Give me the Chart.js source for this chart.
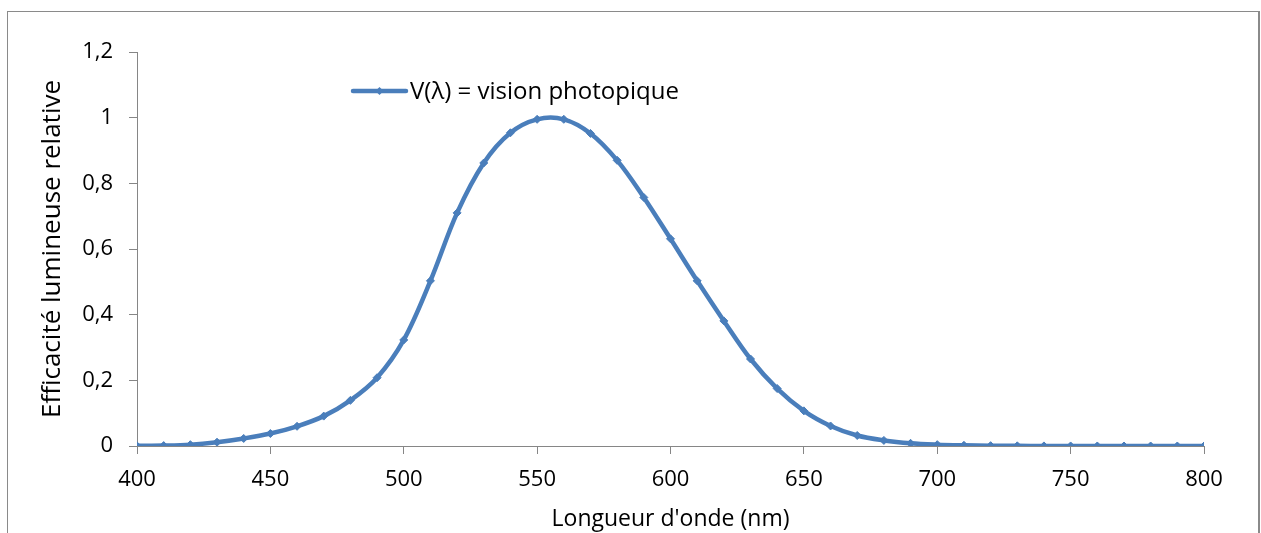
<!DOCTYPE html>
<html>
<head>
<meta charset="utf-8">
<title>V(λ) vision photopique</title>
<script src="https://cdn.jsdelivr.net/npm/chart.js@4.4.1/dist/chart.umd.min.js"></script>
<style>
  html, body { margin: 0; padding: 0; background: #fff; overflow: hidden; }
  #frame {
    position: absolute; left: 7px; top: 11px; width: 1250px; height: 540px;
    border: 1px solid #8a8a8a; border-right-width: 2px;
  }
  #wrap { position: absolute; left: 0; top: 0; width: 1261px; height: 533px; }
</style>
</head>
<body>
<div id="frame"></div>
<div id="wrap"><canvas id="vlambda" width="1261" height="533"></canvas></div>
<script>
// Wavelengths (nm) - one point every 10 nm
const wavelengths = [400, 410, 420, 430, 440, 450, 460, 470, 480, 490,
                     500, 510, 520, 530, 540, 550, 560, 570, 580, 590,
                     600, 610, 620, 630, 640, 650, 660, 670, 680, 690,
                     700, 710, 720, 730, 740, 750, 760, 770, 780, 790, 800];
// Relative luminous efficiency V(λ)
const efficacy = [0.0004, 0.0012, 0.004, 0.0116, 0.023, 0.038, 0.06, 0.091, 0.139, 0.208,
                  0.323, 0.503, 0.71, 0.862, 0.954, 0.995, 0.995, 0.952, 0.87, 0.757,
                  0.631, 0.503, 0.381, 0.265, 0.175, 0.107, 0.061, 0.032, 0.017, 0.0082,
                  0.0041, 0.0021, 0.001, 0.0005, 0.00025, 0.00012, 0.00006, 0.00003, 0.000015, 0.000007, 0.000004];
const xTicks = [400, 450, 500, 550, 600, 650, 700, 750, 800];
const yTicks = [0, 0.2, 0.4, 0.6, 0.8, 1, 1.2];

const seriesLabel = 'V(λ) = vision photopique';
const blue = '#4a7ebb';
const axisGrey = '#868686';

// Excel-style legend drawn inside the plot area (line + diamond + text)
const innerLegend = {
    id: 'innerLegend',
    afterDraw(chart) {
        const ctx = chart.ctx;
        const area = chart.chartArea;
        const ds = chart.data.datasets[0];
        const x0 = area.left + 216, x1 = area.left + 269, y = area.top + 39;
        ctx.save();
        ctx.strokeStyle = ds.borderColor;
        ctx.lineWidth = ds.borderWidth;
        ctx.lineCap = 'round';
        ctx.beginPath();
        ctx.moveTo(x0, y);
        ctx.lineTo(x1, y);
        ctx.stroke();
        ctx.fillStyle = ds.borderColor;
        ctx.beginPath();
        const cx = (x0 + x1) / 2, r = 4;
        ctx.moveTo(cx, y - r); ctx.lineTo(cx + r, y); ctx.lineTo(cx, y + r); ctx.lineTo(cx - r, y);
        ctx.closePath();
        ctx.fill();
        ctx.fillStyle = '#000';
        ctx.font = '24px "Open Sans"';
        ctx.textBaseline = 'middle';
        ctx.textAlign = 'left';
        ctx.fillText(ds.label, x1 + 4, y + 1);
        ctx.restore();
    }
};

const points = wavelengths.map((w, i) => ({ x: w, y: efficacy[i] }));

const ctx = document.getElementById('vlambda').getContext('2d');
const vChart = new Chart(ctx, {
    type: 'line',
    data: {
        datasets: [{
            label: seriesLabel,
            data: points,
            borderColor: blue,
            backgroundColor: blue,
            borderWidth: 4.5,
            pointStyle: 'rectRot',
            pointRadius: 4,
            pointBorderWidth: 1,
            tension: 0.35,
            fill: false
        }]
    },
    options: {
        responsive: false,
        animation: false,
        events: [],
        layout: { padding: { left: 37, top: 52, right: 57, bottom: 0 } },
        plugins: {
            legend: { display: false },
            tooltip: { enabled: false }
        },
        scales: {
            x: {
                type: 'linear',
                min: 400,
                max: 800,
                afterFit: s => { s.height = 87; },
                afterBuildTicks: s => { s.ticks = xTicks.map(v => ({ value: v })); },
                grid: { drawOnChartArea: false, drawTicks: true, tickLength: 8, color: axisGrey },
                border: { display: true, color: axisGrey, width: 1 },
                ticks: { padding: 13, color: '#000', font: { family: 'Open Sans', size: 22 }, maxRotation: 0 },
                title: {
                    display: true,
                    text: "Longueur d'onde (nm)",
                    color: '#000',
                    font: { family: 'Open Sans', size: 23 },
                    padding: { top: 0, bottom: 0 }
                }
            },
            y: {
                min: 0,
                max: 1.2,
                afterFit: s => { s.width = 100; },
                afterBuildTicks: s => { s.ticks = yTicks.map(v => ({ value: v })); },
                grid: { drawOnChartArea: false, drawTicks: true, tickLength: 8, color: axisGrey },
                border: { display: true, color: axisGrey, width: 1 },
                ticks: {
                    padding: 16,
                    color: '#000',
                    font: { family: 'Open Sans', size: 22 },
                    callback: v => String(Math.round(v * 10) / 10).replace('.', ',')
                },
                title: {
                    display: true,
                    text: 'Efficacité lumineuse relative',
                    color: '#000',
                    font: { family: 'Open Sans', size: 26 },
                    padding: { top: 0, bottom: 0 }
                }
            }
        }
    },
    plugins: [innerLegend]
});
</script>
</body>
</html>
